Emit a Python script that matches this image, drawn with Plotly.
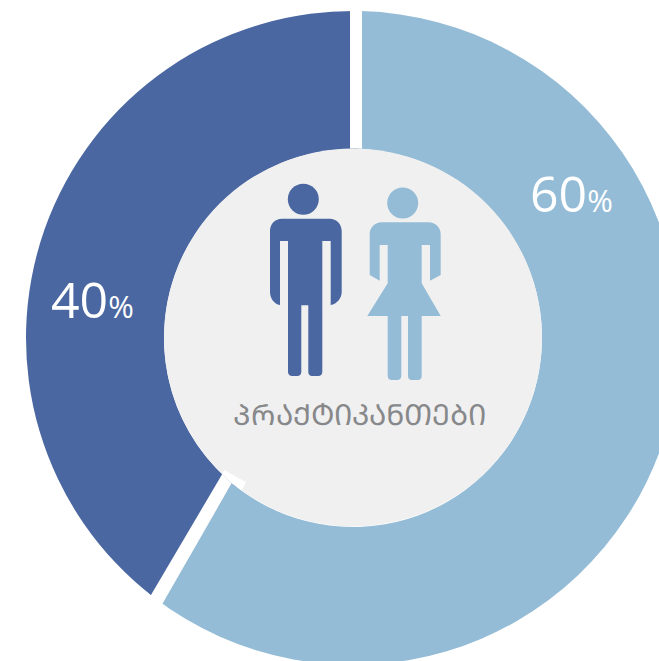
import plotly.graph_objects as go

categories = ["ქალი", "კაცი"]
values = [60, 40]
value_labels = ["60", "40"]
title_text = "ᲞᲠᲐᲥᲢᲘᲙᲐᲜᲗᲔᲑᲘ"
DARK, LIGHT, GREY, TEXT = "#4A67A1", "#94BCD6", "#F0F0F1", "#87888A"

# canvas is larger than the window: the ring runs past the right and bottom edges
W, H = 720, 700
CX, CY, R, INNER = 353, 338, 327, 189


def fx(x):
    return x / W


def fy(y):
    return 1 - y / H


def path(cmds):
    out = []
    for c in cmds:
        op, pts = c[0], c[1:]
        out.append(op + " ".join(f"{fx(x):.5f},{fy(y):.5f}" for x, y in pts))
    return " ".join(out) + " Z"


def shape(cmds, color):
    return dict(type="path", xref="paper", yref="paper", path=path(cmds),
                fillcolor=color, line=dict(width=0), layer="above")


def circle(cx, cy, r, color):
    return dict(type="circle", xref="paper", yref="paper",
                x0=fx(cx - r), x1=fx(cx + r), y0=fy(cy + r), y1=fy(cy - r),
                fillcolor=color, line=dict(width=0), layer="above")


def poly(pts, color):
    return shape([("M", pts[0])] + [("L", p) for p in pts[1:]], color)


man = [
    ("M", (282, 218.7)), ("L", (329.7, 218.7)),
    ("C", (336.5, 218.7), (341.7, 224), (341.7, 231)),
    ("L", (341.7, 292)),
    ("C", (341.7, 298), (337, 304), (330.7, 305)),
    ("L", (330.7, 241)), ("L", (322.3, 241)), ("L", (322.3, 372)),
    ("C", (322.3, 374.5), (320.5, 376), (318.3, 376)),
    ("L", (312, 376)),
    ("C", (310, 376), (308.3, 374.5), (308.3, 372)),
    ("L", (308.3, 305.3)), ("L", (301.3, 305.3)), ("L", (301.3, 372)),
    ("C", (301.3, 374.5), (299.5, 376), (297.3, 376)),
    ("L", (292, 376)),
    ("C", (290, 376), (288, 374.5), (288, 372)),
    ("L", (288, 241)), ("L", (280, 241)), ("L", (280, 305)),
    ("C", (274, 304), (270, 298), (270, 292)),
    ("L", (270, 231)),
    ("C", (270, 224), (275, 218.7), (282, 218.7)),
]
woman = [
    ("M", (381.7, 222.3)), ("L", (428.7, 222.3)),
    ("C", (435.5, 222.3), (440.7, 227.5), (440.7, 234)),
    ("L", (440.7, 275)), ("L", (430, 280.7)), ("L", (430, 245)),
    ("L", (421.7, 245)), ("L", (421.7, 283.3)), ("L", (440.7, 316)),
    ("L", (421.7, 316)), ("L", (421.7, 376)),
    ("C", (421.7, 378.5), (420, 380), (418, 380)),
    ("L", (411.5, 380)),
    ("C", (409.5, 380), (408, 378.5), (408, 376)),
    ("L", (408, 316)), ("L", (401.3, 316)), ("L", (401.3, 376)),
    ("C", (401.3, 378.5), (399.5, 380), (397.5, 380)),
    ("L", (391.5, 380)),
    ("C", (389.5, 380), (387.7, 378.5), (387.7, 376)),
    ("L", (387.7, 316)), ("L", (367.3, 316)), ("L", (387.7, 283.3)),
    ("L", (387.7, 245)), ("L", (379.7, 245)), ("L", (379.7, 280.7)),
    ("L", (369.7, 275)), ("L", (369.7, 234)),
    ("C", (369.7, 227.5), (375, 222.3), (381.7, 222.3)),
]

shapes = [
    poly([(162.3, 601.7), (231.7, 483.3), (242, 491)], LIGHT),
    circle(CX, 337.5, INNER, GREY),
    poly([(350, 5), (362, 5), (362, 148.5), (350, 148.5)], "white"),
    poly([(148, 600), (160, 608), (231.7, 483.3), (222.3, 474)], "white"),
    poly([(224.3, 470), (246, 482.3), (241.7, 490.7), (231.7, 483.3), (222.3, 474)], "white"),
    circle(303.3, 199.3, 15.5, DARK),
    circle(402.7, 203, 15.5, LIGHT),
    shape(man, DARK),
    shape(woman, LIGHT),
]

fig = go.Figure(go.Pie(
    labels=categories, values=values, sort=False, direction="clockwise",
    rotation=1.5, hole=INNER / R, textinfo="none", hoverinfo="skip",
    marker=dict(colors=[LIGHT, DARK], line=dict(width=0)),
    domain=dict(x=[fx(CX - R), fx(CX + R)], y=[fy(CY + R), fy(CY - R)]),
    showlegend=False,
))


def pct(text, x, y):
    return dict(xref="paper", yref="paper", x=fx(x), y=fy(y), showarrow=False,
                xanchor="center", yanchor="middle",
                text=f"{text}<span style='font-size:31px'>%</span>",
                font=dict(family="Open Sans", size=50, color="white"))


fig.update_layout(
    width=W, height=H, margin=dict(l=0, r=0, t=0, b=0),
    paper_bgcolor="white", plot_bgcolor="white", shapes=shapes,
    annotations=[
        pct(value_labels[0], 571, 193),
        pct(value_labels[1], 92, 299),
        dict(xref="paper", yref="paper", x=fx(359), y=fy(413), showarrow=False,
             xanchor="center", yanchor="middle", text=title_text,
             font=dict(family="Noto Sans, DejaVu Sans", size=29, color=TEXT, weight=500)),
    ],
)
fig.write_html(
    "out.html", config=dict(displayModeBar=False),
    post_script="document.body.style.margin='0';document.documentElement.style.overflow='hidden';document.body.style.overflow='hidden';",
)
